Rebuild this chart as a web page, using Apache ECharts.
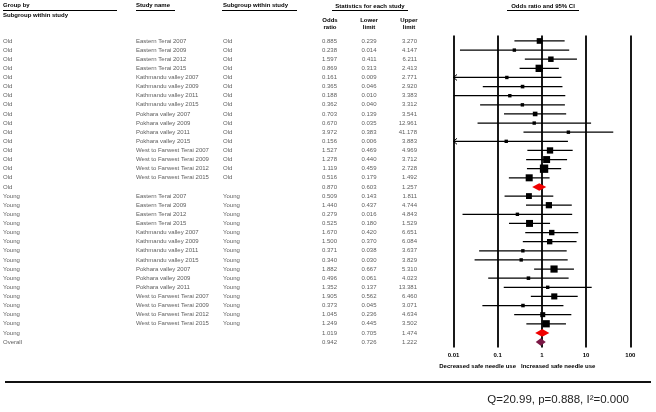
<!DOCTYPE html>
<html><head><meta charset="utf-8">
<script src="https://cdn.jsdelivr.net/npm/echarts@6/dist/echarts.min.js"></script>
<style>html,body{margin:0;padding:0;background:#fff}#c{width:656px;height:412px}</style>
</head><body><div id="c"></div>
<script>
// ---------- data ----------
const groupLabels = [
  'Old','Old','Old','Old','Old','Old','Old','Old','Old','Old','Old','Old','Old','Old','Old','Old','Old',
  'Young','Young','Young','Young','Young','Young','Young','Young','Young','Young','Young','Young','Young','Young','Young','Young',
  'Overall'
];
const studyNames = [
  'Eastern Terai 2007','Eastern Terai 2009','Eastern Terai 2012','Eastern Terai 2015',
  'Kathmandu valley 2007','Kathmandu valley 2009','Kathmandu valley 2011','Kathmandu valley 2015',
  'Pokhara valley 2007','Pokhara valley 2009','Pokhara valley 2011','Pokhara valley 2015',
  'West to Farwest Terai 2007','West to Farwest Terai 2009','West to Farwest Terai 2012','West to Farwest Terai 2015',
  '',
  'Eastern Terai 2007','Eastern Terai 2009','Eastern Terai 2012','Eastern Terai 2015',
  'Kathmandu valley 2007','Kathmandu valley 2009','Kathmandu valley 2011','Kathmandu valley 2015',
  'Pokhara valley 2007','Pokhara valley 2009','Pokhara valley 2011',
  'West to Farwest Terai 2007','West to Farwest Terai 2009','West to Farwest Terai 2012','West to Farwest Terai 2015',
  '',
  ''
];
const subgroups = [
  'Old','Old','Old','Old','Old','Old','Old','Old','Old','Old','Old','Old','Old','Old','Old','Old','',
  'Young','Young','Young','Young','Young','Young','Young','Young','Young','Young','Young','Young','Young','Young','Young','',
  ''
];
const rowKind = [
  's','s','s','s','s','s','s','s','s','s','s','s','s','s','s','s','sub',
  's','s','s','s','s','s','s','s','s','s','s','s','s','s','s','sub',
  'all'
];
const oddsRatio = [
  0.885,0.238,1.597,0.869,0.161,0.365,0.188,0.362,0.703,0.670,3.972,0.156,1.527,1.278,1.119,0.516,
  0.870,
  0.509,1.440,0.279,0.525,1.670,1.500,0.371,0.340,1.882,0.496,1.352,1.905,0.373,1.045,1.249,
  1.019,
  0.942
];
const lowerLimit = [
  0.239,0.014,0.411,0.313,0.009,0.046,0.010,0.040,0.139,0.035,0.383,0.006,0.469,0.440,0.459,0.179,
  0.603,
  0.143,0.437,0.016,0.180,0.420,0.370,0.038,0.030,0.667,0.061,0.137,0.562,0.045,0.236,0.445,
  0.705,
  0.726
];
const upperLimit = [
  3.270,4.147,6.211,2.413,2.771,2.920,3.383,3.312,3.541,12.961,41.178,3.883,4.969,3.712,2.728,1.492,
  1.257,
  1.811,4.744,4.843,1.529,6.651,6.084,3.637,3.829,5.310,4.023,13.381,6.460,3.071,4.634,3.502,
  1.474,
  1.222
];
const axisTickLabels = ['0.01','0.1','1','10','100'];
const statsText = 'Q=20.99, p=0.888, I\u00b2=0.000';

// ---------- chart ----------
const FONT = 'Liberation Sans';
const nRows = groupLabels.length;
const yMin = -0.6, yMax = nRows - 1 + 0.6;
const gridTop = 35.5, gridH = 312;

function textSeries(xPos, texts, align, fmt) {
  return {
    type: 'scatter', xAxisIndex: 0, yAxisIndex: 0, symbolSize: 0, silent: true,
    data: texts.map((t, i) => ({ value: [xPos, i], name: fmt ? fmt(t) : t })),
    label: { show: true, position: [0, 0], align: align, verticalAlign: 'middle',
      formatter: '{b}', fontFamily: FONT, fontSize: 6, color: '#333' }
  };
}
const f3 = v => v.toFixed(3);

const chart = echarts.init(document.getElementById('c'), null, { renderer: 'canvas' });
const option = {
  animation: false,
  backgroundColor: '#fff',
  grid: [
    { left: 0, width: 656, top: gridTop, height: gridH },
    { left: 453.5, width: 176.8, top: gridTop, height: gridH }
  ],
  xAxis: [
    { gridIndex: 0, type: 'value', min: 0, max: 656, show: false },
    { gridIndex: 1, type: 'log', logBase: 10, min: 0.01, max: 100,
      axisLine: { show: false }, axisTick: { show: false },
      splitLine: { show: true, lineStyle: { color: '#000', width: 1.8 } },
      axisLabel: { show: true, margin: 5, fontFamily: FONT, fontSize: 6, fontWeight: 'bold', color: '#000',
        formatter: v => axisTickLabels[Math.round(Math.log10(v)) + 2] } }
  ],
  yAxis: [
    { gridIndex: 0, type: 'value', inverse: true, min: yMin, max: yMax, show: false },
    { gridIndex: 1, type: 'value', inverse: true, min: yMin, max: yMax, show: false }
  ],
  series: [
    textSeries(3, groupLabels, 'left'),
    textSeries(136, studyNames, 'left'),
    textSeries(223, subgroups, 'left'),
    textSeries(337, oddsRatio, 'right', f3),
    textSeries(376.5, lowerLimit, 'right', f3),
    textSeries(417, upperLimit, 'right', f3),
    {
      type: 'custom', xAxisIndex: 1, yAxisIndex: 1, silent: true, clip: false,
      data: oddsRatio.map((v, i) => [v, lowerLimit[i], upperLimit[i], i]),
      encode: { x: 0, y: 3 },
      renderItem: function (params, api) {
        const i = api.value(3);
        const or = api.value(0), lo = api.value(1), hi = api.value(2);
        const kind = rowKind[i];
        const y = api.coord([1, i])[1];
        const xl = api.coord([Math.max(lo, 0.01), i])[0];
        const xh = api.coord([Math.min(hi, 100), i])[0];
        const xo = api.coord([or, i])[0];
        const kids = [];
        if (kind === 's') {
          kids.push({ type: 'line', shape: { x1: xl, y1: y, x2: xh, y2: y },
            style: { stroke: '#000', lineWidth: 1.3 } });
          if (lo < 0.01) {
            kids.push({ type: 'polyline', shape: { points: [[xl + 3.5, y - 3], [xl, y], [xl + 3.5, y + 3]] },
              style: { stroke: '#000', lineWidth: 1, fill: null } });
          }
          const se = (Math.log(hi) - Math.log(lo)) / 3.92;
          const s = Math.min(9, Math.max(3.4, 3.8 / se));
          kids.push({ type: 'rect', shape: { x: xo - s / 2, y: y - s / 2, width: s, height: s },
            style: { fill: '#000' } });
        } else {
          const h = 3.8;
          kids.push({ type: 'polygon', shape: { points: [[xl, y], [xo, y - h], [xh, y], [xo, y + h]] },
            style: { fill: kind === 'all' ? '#7a1745' : '#f00000' } });
        }
        return { type: 'group', children: kids };
      }
    }
  ],
  graphic: [
    // headers
    { type: 'text', left: 3, top: 2, style: { text: 'Group by', font: 'bold 6px ' + FONT, fill: '#000' } },
    { type: 'line', shape: { x1: 3, y1: 10.5, x2: 117, y2: 10.5 }, style: { stroke: '#000', lineWidth: 1 } },
    { type: 'text', left: 3, top: 12, style: { text: 'Subgroup within study', font: 'bold 6px ' + FONT, fill: '#000' } },
    { type: 'text', left: 136, top: 2, style: { text: 'Study name', font: 'bold 6px ' + FONT, fill: '#000' } },
    { type: 'line', shape: { x1: 136, y1: 10.5, x2: 175, y2: 10.5 }, style: { stroke: '#000', lineWidth: 1 } },
    { type: 'text', left: 223, top: 2, style: { text: 'Subgroup within study', font: 'bold 6px ' + FONT, fill: '#000' } },
    { type: 'line', shape: { x1: 222, y1: 10.5, x2: 297, y2: 10.5 }, style: { stroke: '#000', lineWidth: 1 } },
    { type: 'text', x: 370, y: 6, style: { text: 'Statistics for each study', font: 'bold 6px ' + FONT, fill: '#000', align: 'center', verticalAlign: 'middle' } },
    { type: 'line', shape: { x1: 332, y1: 10.5, x2: 408, y2: 10.5 }, style: { stroke: '#000', lineWidth: 1 } },
    { type: 'text', x: 543, y: 6, style: { text: 'Odds ratio and 95% CI', font: 'bold 6px ' + FONT, fill: '#000', align: 'center', verticalAlign: 'middle' } },
    { type: 'line', shape: { x1: 507, y1: 10.5, x2: 579, y2: 10.5 }, style: { stroke: '#000', lineWidth: 1 } },
    { type: 'text', x: 330, y: 20, style: { text: 'Odds', font: 'bold 6px ' + FONT, fill: '#000', align: 'center', verticalAlign: 'middle' } },
    { type: 'text', x: 330, y: 27, style: { text: 'ratio', font: 'bold 6px ' + FONT, fill: '#000', align: 'center', verticalAlign: 'middle' } },
    { type: 'text', x: 369, y: 20, style: { text: 'Lower', font: 'bold 6px ' + FONT, fill: '#000', align: 'center', verticalAlign: 'middle' } },
    { type: 'text', x: 369, y: 27, style: { text: 'limit', font: 'bold 6px ' + FONT, fill: '#000', align: 'center', verticalAlign: 'middle' } },
    { type: 'text', x: 409, y: 20, style: { text: 'Upper', font: 'bold 6px ' + FONT, fill: '#000', align: 'center', verticalAlign: 'middle' } },
    { type: 'text', x: 409, y: 27, style: { text: 'limit', font: 'bold 6px ' + FONT, fill: '#000', align: 'center', verticalAlign: 'middle' } },
    // favour labels
    { type: 'text', x: 516, y: 366, style: { text: 'Decreased safe needle use', font: 'bold 6px ' + FONT, fill: '#000', align: 'right', verticalAlign: 'middle' } },
    { type: 'text', x: 521, y: 366, style: { text: 'Increased safe needle use', font: 'bold 6px ' + FONT, fill: '#000', align: 'left', verticalAlign: 'middle' } },
    // rule and stats
    { type: 'line', shape: { x1: 5, y1: 382, x2: 651, y2: 382 }, style: { stroke: '#111', lineWidth: 2 } },
    { type: 'text', x: 629, y: 400, style: { text: statsText, font: '11.5px ' + FONT, fill: '#222', align: 'right', verticalAlign: 'middle' } }
  ]
};
chart.setOption(option);
</script>
</body></html>
